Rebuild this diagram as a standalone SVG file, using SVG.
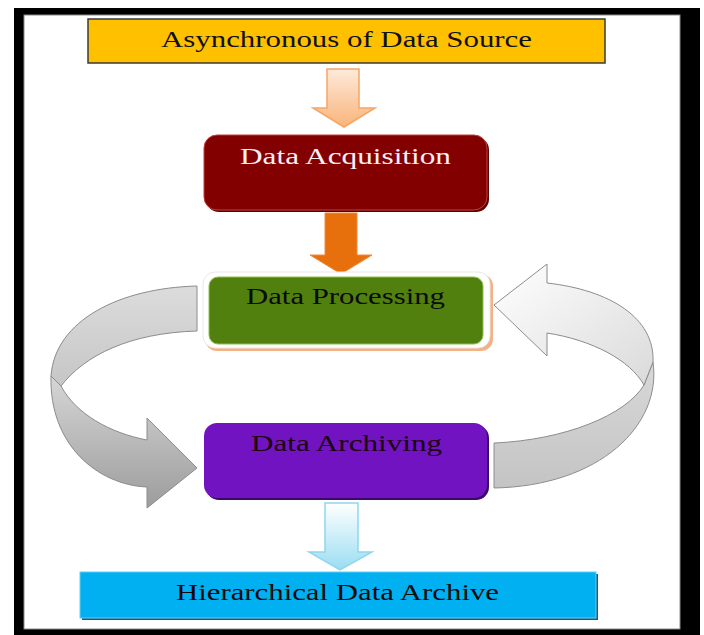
<svg xmlns="http://www.w3.org/2000/svg" width="704" height="635" viewBox="0 0 704 635">
<defs>
<linearGradient id="gPeach" x1="0" y1="0" x2="0" y2="1"><stop offset="0" stop-color="#FDEADA"/><stop offset="1" stop-color="#FAB47A"/></linearGradient>
<linearGradient id="gBlue" x1="0" y1="0" x2="0" y2="1"><stop offset="0" stop-color="#FFFFFF"/><stop offset="1" stop-color="#9ADDF2"/></linearGradient>
<linearGradient id="gLeftUp" x1="0" y1="0" x2="0" y2="1"><stop offset="0" stop-color="#DCDCDC"/><stop offset="1" stop-color="#C6C6C6"/></linearGradient>
<linearGradient id="gLeftLow" x1="0" y1="0" x2="0" y2="1"><stop offset="0" stop-color="#D6D6D6"/><stop offset="1" stop-color="#9C9C9C"/></linearGradient>
<linearGradient id="gRightUp" x1="0" y1="0" x2="1" y2="1"><stop offset="0" stop-color="#FFFFFF"/><stop offset="1" stop-color="#DADADA"/></linearGradient>
<linearGradient id="gRightLow" x1="0" y1="0" x2="0" y2="1"><stop offset="0" stop-color="#D8D8D8"/><stop offset="1" stop-color="#C4C4C4"/></linearGradient>
</defs>
<style>
.lbl{font-family:"Liberation Serif","Times New Roman",serif;font-size:23px;text-anchor:middle}
.curve{stroke:#8C8C8C;stroke-width:1;stroke-linejoin:round}
</style>
<rect x="14" y="8" width="686" height="627" fill="#000"/>
<rect x="24" y="15" width="656" height="614" fill="#fff" stroke="#8a8a8a" stroke-width="1"/>

<g id="connectors">
  <path d="M327,69 H359 V108 H375 L344,127 L313,108 H327 Z" fill="url(#gPeach)" stroke="#F7A565" stroke-width="1.5"/>
  <path d="M325,213 H357 V255 H372 L341,274 L310,255 H325 Z" fill="#E8700C" stroke="#F08A3C" stroke-width="1"/>
  <path d="M325,503 H358 V552 H372 L340,570 L309,552 H325 Z" fill="url(#gBlue)" stroke="#8FD6EE" stroke-width="1.5"/>
  <g id="loop-left">
    <path class="curve" d="M197,286 C120,288 55,320 51,376 L61,386 C85,355 130,333 197,331 Z" fill="url(#gLeftUp)"/>
    <path class="curve" d="M51,376 C49,445 98,485 147,487 L147,508 L197,468 L147,418 L147,440 C110,433 76,414 61,386 Z" fill="url(#gLeftLow)"/>
  </g>
  <g id="loop-right">
    <path class="curve" d="M494,443 C565,440 626,415 644,385 L653,362 C662,425 600,486 494,488 Z" fill="url(#gRightLow)"/>
    <path class="curve" d="M653,362 C655,318 610,290 547,283 L547,264 L494,305 L547,356 L547,333 C592,340 630,360 644,385 Z" fill="url(#gRightUp)"/>
  </g>
</g>

<g id="n-source">
  <rect x="88" y="19" width="517" height="44" fill="#FFC000" stroke="#3a3a3a" stroke-width="1.5"/>
  <text class="lbl" x="346.5" y="47" font-size="24" textLength="371" lengthAdjust="spacingAndGlyphs" fill="#111">Asynchronous of Data Source</text>
</g>

<g id="n-acquisition">
  <rect x="206" y="137" width="283" height="75" rx="13" fill="#5A0000"/>
  <rect x="204" y="135" width="283" height="75" rx="13" fill="#830000" stroke="#C0403A" stroke-width="1"/>
  <text class="lbl" x="345.5" y="164" textLength="211" lengthAdjust="spacingAndGlyphs" fill="#FBEFF6">Data Acquisition</text>
</g>

<g id="n-processing">
  <rect x="205" y="274" width="288" height="77" rx="12" fill="#F4B183"/>
  <rect x="203" y="272" width="287" height="76" rx="12" fill="#FFFFFF" stroke="#E8E8E8" stroke-width="1"/>
  <rect x="209" y="277" width="274" height="67" rx="9" fill="#52800F" stroke="#8EC04A" stroke-width="1"/>
  <text class="lbl" x="345.5" y="304" textLength="199" lengthAdjust="spacingAndGlyphs" fill="#0A0A0A">Data Processing</text>
</g>

<g id="n-archiving">
  <rect x="206" y="425" width="283" height="75" rx="13" fill="#3B0A66"/>
  <rect x="204" y="423" width="283" height="75" rx="13" fill="#7213C2"/>
  <text class="lbl" x="346.5" y="451" textLength="191" lengthAdjust="spacingAndGlyphs" fill="#1A0010">Data Archiving</text>
</g>

<g id="n-archive">
  <rect x="82" y="574" width="516" height="46" fill="#1C5A78"/>
  <rect x="80" y="572" width="516" height="46" fill="#00B0F0" stroke="#5FCFF5" stroke-width="1"/>
  <text class="lbl" x="337.5" y="600" font-size="24" textLength="323" lengthAdjust="spacingAndGlyphs" fill="#0A0A0A">Hierarchical Data Archive</text>
</g>
</svg>
